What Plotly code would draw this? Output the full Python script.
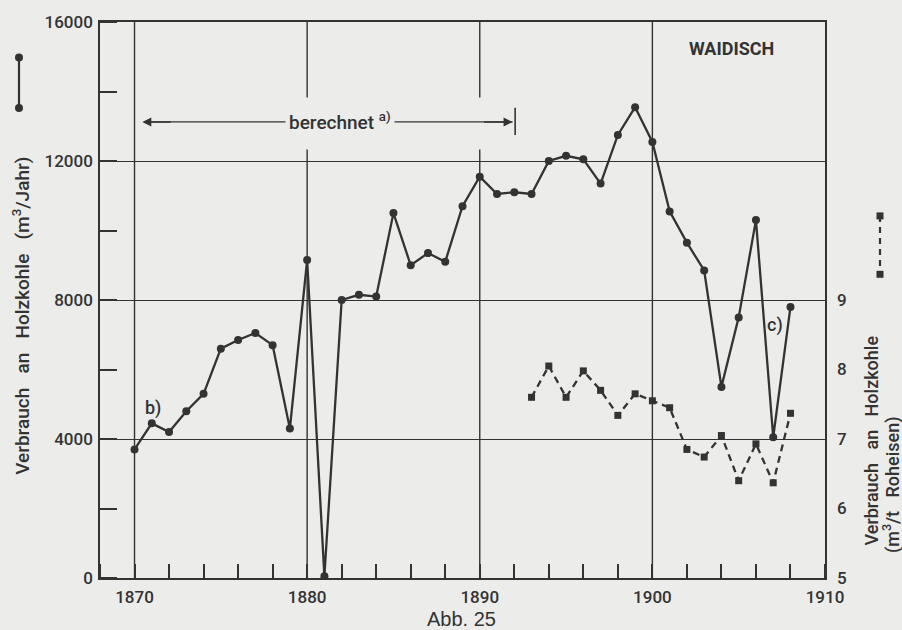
import plotly.graph_objects as go

# ---- data ----
years_total = list(range(1870, 1909))
total_m3 = [3700, 4450, 4200, 4800, 5300, 6600, 6850, 7050, 6700, 4300,
            9150, 50, 8000, 8150, 8100, 10500, 9000, 9350, 9100, 10700,
            11550, 11050, 11100, 11050, 12000, 12150, 12050, 11350, 12750, 13550,
            12550, 10550, 9650, 8850, 5500, 7500, 10300, 4050, 7800]

years_spec = list(range(1893, 1909))
spec_m3_t = [7.6, 8.05, 7.6, 7.98, 7.7, 7.34, 7.65, 7.55, 7.45, 6.85,
             6.74, 7.05, 6.4, 6.93, 6.37, 7.37]

x_ticks = [1870, 1880, 1890, 1900, 1910]
x_tick_labels = ["1870", "1880", "1890", "1900", "1910"]
y_ticks = [0, 4000, 8000, 12000, 16000]
y_tick_labels = ["0", "4000", "8000", "12000", "16000"]
y2_ticks = [5, 6, 7, 8, 9]
y2_tick_labels = ["5", "6", "7", "8", "9"]

BG = "#ECECEA"
INK = "#333333"
FONT = "Roboto"
SP = "\u00a0\u00a0\u00a0"  # wide word spacing as in the original lettering

fig = go.Figure()
fig.add_trace(go.Scatter(
    x=years_total, y=total_m3, mode="lines+markers",
    line=dict(color=INK, width=2.3),
    marker=dict(symbol="circle", size=8, color=INK),
    showlegend=False, hoverinfo="skip"))
fig.add_trace(go.Scatter(
    x=years_spec, y=spec_m3_t, mode="lines+markers", yaxis="y2",
    line=dict(color=INK, width=2.3, dash="7px,5px"),
    marker=dict(symbol="square", size=7, color=INK),
    showlegend=False, hoverinfo="skip"))

shapes = []
# vertical grid lines (1880 / 1890 interrupted by the "berechnet" label)
for xv in [1870, 1900]:
    shapes.append(dict(type="line", xref="x", yref="y", x0=xv, x1=xv, y0=0, y1=16000,
                       line=dict(color=INK, width=1.4), layer="below"))
for xv in [1880, 1890]:
    shapes.append(dict(type="line", xref="x", yref="y", x0=xv, x1=xv, y0=0, y1=12330,
                       line=dict(color=INK, width=1.4), layer="below"))
    shapes.append(dict(type="line", xref="x", yref="y", x0=xv, x1=xv, y0=13830, y1=16000,
                       line=dict(color=INK, width=1.4), layer="below"))

# "berechnet" span line and end bar
shapes.append(dict(type="line", xref="x", yref="y", x0=1870.6, x1=1891.9, y0=13125, y1=13125,
                   line=dict(color=INK, width=1.4)))
shapes.append(dict(type="line", xref="x", yref="y", x0=1892.05, x1=1892.05, y0=12750, y1=13530,
                   line=dict(color=INK, width=1.6)))

# left legend symbol (solid line with dots)
lx = (19 - 100) / 725
ly0, ly1 = (578 - 52) / 562, (578 - 103) / 562
shapes.append(dict(type="line", xref="paper", yref="paper", x0=lx, x1=lx, y0=ly0, y1=ly1,
                   line=dict(color=INK, width=2.2)))
for yy in [ly0, ly1]:
    shapes.append(dict(type="circle", xref="paper", yref="paper", xsizemode="pixel",
                       ysizemode="pixel", xanchor=lx, yanchor=yy, x0=-4, x1=4, y0=-4, y1=4,
                       fillcolor=INK, line=dict(color=INK, width=0)))

# right legend symbol (dashed line with squares)
rx = (880 - 100) / 725
ry0, ry1 = (578 - 212) / 562, (578 - 271) / 562
shapes.append(dict(type="line", xref="paper", yref="paper", x0=rx, x1=rx, y0=ry0, y1=ry1,
                   line=dict(color=INK, width=2.2, dash="6px,5px")))
for yy in [ry0, ry1]:
    shapes.append(dict(type="rect", xref="paper", yref="paper", xsizemode="pixel",
                       ysizemode="pixel", xanchor=rx, yanchor=yy, x0=-3.5, x1=3.5, y0=-3.5, y1=3.5,
                       fillcolor=INK, line=dict(color=INK, width=0)))

tfont_l = dict(family=FONT, size=19, color=INK, weight=500)
tfont_r = dict(family=FONT, size=18, color=INK, weight=500)
annotations = [
    dict(text=f"Verbrauch{SP}an{SP}Holzkohle{SP}(m<sup>3</sup>/Jahr)", xref="paper", yref="paper",
         x=(22 - 100) / 725, y=(578 - 313) / 562, textangle=-90, showarrow=False,
         xanchor="center", yanchor="middle", font=tfont_l),
    dict(text=f"Verbrauch{SP}an{SP}Holzkohle", xref="paper", yref="paper",
         x=(871 - 100) / 725, y=(578 - 439) / 562, textangle=-90, showarrow=False,
         xanchor="center", yanchor="middle", font=tfont_r),
    dict(text=f"(m<sup>3</sup>/t{SP}Roheisen)", xref="paper", yref="paper",
         x=(891 - 100) / 725, y=(578 - 484) / 562, textangle=-90, showarrow=False,
         xanchor="center", yanchor="middle", font=tfont_r),
    dict(text="WAIDISCH", xref="x", yref="y", x=1904.56, y=15230, showarrow=False,
         xanchor="center", yanchor="middle",
         font=dict(family=FONT, size=18, color=INK, weight="bold")),
    dict(text="berechnet <sup>a)</sup>", xref="x", yref="y", x=1881.9, y=13125, showarrow=False,
         xanchor="center", yanchor="middle", bgcolor=BG, borderpad=3,
         font=dict(family=FONT, size=19, color=INK, weight=500)),
    dict(text="", xref="x", yref="y", x=1870.45, y=13125, ax=30, ay=0, showarrow=True,
         arrowhead=2, arrowsize=1.2, arrowwidth=1.5, arrowcolor=INK),
    dict(text="", xref="x", yref="y", x=1891.9, y=13125, ax=-30, ay=0, showarrow=True,
         arrowhead=2, arrowsize=1.2, arrowwidth=1.5, arrowcolor=INK),
    dict(text="b)", xref="x", yref="y", x=1871.07, y=4900, showarrow=False,
         xanchor="center", yanchor="middle", font=dict(family=FONT, size=18, color=INK, weight=500)),
    dict(text="c)", xref="x", yref="y", x=1907.1, y=7290, showarrow=False,
         xanchor="center", yanchor="middle", font=dict(family=FONT, size=18, color=INK, weight=500)),
    dict(text="Abb. 25", xref="paper", yref="paper", x=(461 - 100) / 725, y=(578 - 619) / 562,
         showarrow=False, xanchor="center", yanchor="middle",
         font=dict(family="Liberation Sans", size=20, color=INK)),
]

tickfont = dict(family=FONT, size=17, color=INK, weight=500)
fig.update_layout(
    width=902, height=630,
    margin=dict(l=100, r=77, t=16, b=52),
    paper_bgcolor=BG, plot_bgcolor=BG,
    font=dict(family=FONT, size=17, color=INK),
    shapes=shapes, annotations=annotations,
    xaxis=dict(range=[1868, 1910], tickvals=x_ticks, ticktext=x_tick_labels, ticks="",
               showgrid=False, zeroline=False,
               showline=True, mirror=True, linecolor=INK, linewidth=1.5,
               ticklabelstandoff=3, tickfont=tickfont,
               minor=dict(tick0=1870, dtick=2, ticks="inside", ticklen=14, tickwidth=1.5,
                          tickcolor=INK, showgrid=False)),
    yaxis=dict(range=[0, 16000], tickvals=y_ticks, ticktext=y_tick_labels, ticks="",
               showgrid=True, gridcolor=INK,
               gridwidth=1.4, zeroline=False, showline=True, mirror=True, linecolor=INK,
               linewidth=1.5, ticklabelstandoff=2, tickfont=tickfont,
               minor=dict(tick0=0, dtick=2000, ticks="inside", ticklen=17, tickwidth=1.5,
                          tickcolor=INK, showgrid=False)),
    yaxis2=dict(range=[5, 13], tickvals=y2_ticks, ticktext=y2_tick_labels, overlaying="y",
                side="right", ticks="",
                showgrid=False, zeroline=False, showline=False, ticklabelstandoff=11,
                tickfont=tickfont),
)

fig.write_html("out.html", config={"displayModeBar": False},
               post_script="document.body.style.margin='0';")
